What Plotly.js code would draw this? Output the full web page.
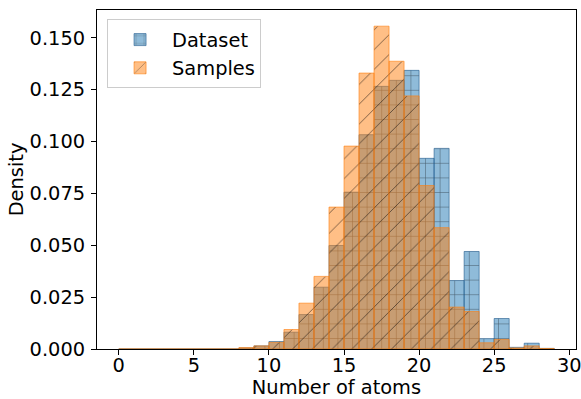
<!DOCTYPE html>
<html>
<head>
<meta charset="utf-8">
<script src="https://cdn.plot.ly/plotly-3.0.1.min.js"></script>
<style>html,body{margin:0;padding:0;background:#fff;}#chart{width:581px;height:399px;}</style>
</head>
<body>
<div id="chart"></div>
<script>
// Left edges of the histogram bins (bin width 1)
const binStarts = [0,1,2,3,4,5,6,7,8,9,10,11,12,13,14,15,16,17,18,19,20,21,22,23,24,25,26,27,28];
// Density per bin
const datasetDensity = [0,0,0,0,0,0,0,0,0.0005,0.0015,0.0036,0.0081,0.0166,0.0298,0.0499,0.0756,0.1033,0.1266,0.1295,0.1343,0.0919,0.0967,0.0330,0.0470,0.0050,0.0147,0.0008,0.0028,0.0003];
const samplesDensity = [0,0,0,0,0,0,0,0,0.0007,0.0015,0.0032,0.0094,0.0221,0.0350,0.0684,0.0978,0.1330,0.1556,0.1387,0.1220,0.0788,0.0585,0.0202,0.0181,0.0030,0.0046,0.0005,0.0015,0.0002];
const seriesNames = ["Dataset", "Samples"];
const xTicks = [0,5,10,15,20,25,30];
const yTicks = [0,0.025,0.05,0.075,0.1,0.125,0.15];

const FONT = "DejaVu Sans, sans-serif";
const FS = 19.4;

const traces = [
  {
    type: "bar", name: seriesNames[0], x: binStarts, y: datasetDensity,
    offset: 0, width: 1,
    marker: {
      color: "rgba(31,119,180,0.5)",
      line: {color: "rgba(31,90,140,0.6)", width: 1},
      pattern: {shape: "+", fillmode: "overlay", fgcolor: "#000", fgopacity: 0.5, size: 14.6, solidity: 0.07}
    }
  },
  {
    type: "bar", name: seriesNames[1], x: binStarts, y: samplesDensity,
    offset: 0, width: 1,
    marker: {
      color: "rgba(255,127,14,0.5)",
      line: {color: "rgba(255,127,14,0.6)", width: 1},
      pattern: {shape: "/", fillmode: "overlay", fgcolor: "#000", fgopacity: 0.5, size: 14, solidity: 0.07}
    }
  }
];

const layout = {
  width: 581, height: 399,
  margin: {l: 97, r: 5, t: 10, b: 50, pad: 0},
  paper_bgcolor: "#fff", plot_bgcolor: "#fff",
  barmode: "overlay", bargap: 0,
  font: {family: FONT, size: FS, color: "#000"},
  showlegend: true,
  legend: {
    x: 0.021, y: 0.972, xanchor: "left", yanchor: "top",
    bgcolor: "rgba(255,255,255,0.8)", bordercolor: "#cccccc", borderwidth: 1,
    font: {family: FONT, size: FS, color: "#000"},
    itemwidth: 54, tracegroupgap: 0
  },
  xaxis: {
    range: [-1.45, 30.45], tickvals: xTicks, ticktext: xTicks.map(String),
    ticks: "outside", ticklen: 5, tickwidth: 1, tickcolor: "#000",
    showline: true, linecolor: "#000", linewidth: 1, mirror: true,
    showgrid: false, zeroline: false, automargin: false,
    ticklabeloverflow: "allow", ticklabelstandoff: -6,
    tickfont: {family: FONT, size: FS, color: "#000"},
    title: {text: "Number of atoms", font: {family: FONT, size: FS, color: "#000"}, standoff: 6}
  },
  yaxis: {
    range: [0, 0.1634], tickvals: yTicks, ticktext: yTicks.map(v => v.toFixed(3)),
    ticks: "outside", ticklen: 5, tickwidth: 1, tickcolor: "#000",
    showline: true, linecolor: "#000", linewidth: 1, mirror: true,
    showgrid: false, zeroline: false, automargin: false,
    ticklabeloverflow: "allow", ticklabelstandoff: 2,
    tickfont: {family: FONT, size: FS, color: "#000"},
    title: {text: "Density", font: {family: FONT, size: FS, color: "#000"}, standoff: 0}
  }
};

Plotly.newPlot("chart", traces, layout, {staticPlot: true, displayModeBar: false});
</script>
</body>
</html>
